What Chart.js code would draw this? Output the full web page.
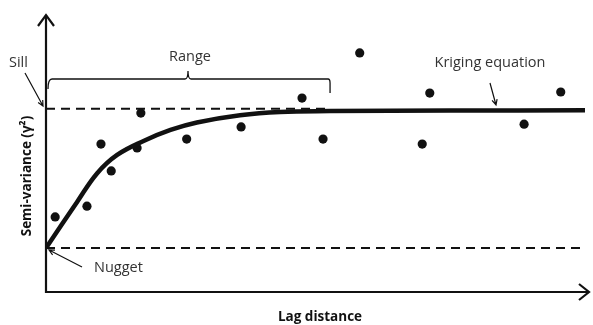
<!DOCTYPE html>
<html>
<head>
<meta charset="utf-8">
<script src="https://cdn.jsdelivr.net/npm/chart.js@4"></script>
<style>
    html, body { margin: 0; padding: 0; background: #fff; }
    canvas { display: block; }
</style>
</head>
<body>
<canvas id="variogramChart" width="593" height="325"></canvas>
<script>
// observed semi-variance points (lag, gamma)
const lagPoints = [1.7, 7.6, 10.2, 12.1, 16.9, 17.6, 26.1, 36.2, 47.5, 51.4, 58.2, 71.2, 69.8, 88.7, 95.5];
const gammaPoints = [27.1, 31.0, 53.4, 43.7, 52.0, 64.6, 55.2, 59.6, 70.0, 55.2, 86.3, 71.8, 53.4, 60.6, 72.2];

// fitted kriging curve
const curveLag = [0, 5.8, 9.5, 13.2, 18.2, 23.1, 28.0, 36.0, 43.4, 52.7, 75, 100];
const curveGamma = [15.9, 32.6, 42.9, 49.5, 54.6, 58.5, 61.2, 63.8, 65.0, 65.3, 65.5, 65.6];

const nugget = 15.9;
const sill = 66.2;
const rangeLag = 52.7;

const ink = '#111';

const annotations = {
    id: 'annotations',
    afterDatasetsDraw(chart) {
        const ctx = chart.ctx;
        const area = chart.chartArea;
        const x = chart.scales.x;

        ctx.save();
        ctx.strokeStyle = ink;
        ctx.fillStyle = ink;

        // axes
        ctx.lineWidth = 2.2;
        ctx.beginPath();
        ctx.moveTo(area.left, area.top);
        ctx.lineTo(area.left, area.bottom);
        ctx.lineTo(area.right + 3, area.bottom);
        ctx.stroke();

        // arrow heads on the axes
        ctx.beginPath();
        ctx.moveTo(area.left - 8, area.top + 11);
        ctx.lineTo(area.left, area.top);
        ctx.lineTo(area.left + 8, area.top + 11);
        ctx.moveTo(area.right - 6, area.bottom - 8);
        ctx.lineTo(area.right + 4, area.bottom);
        ctx.lineTo(area.right - 6, area.bottom + 8);
        ctx.stroke();

        // range bracket
        const bx0 = x.getPixelForValue(0) + 2;
        const bx1 = x.getPixelForValue(rangeLag);
        const by = 79;
        const mid = 188;
        ctx.lineWidth = 1.3;
        ctx.beginPath();
        ctx.moveTo(bx0, by + 10);
        ctx.quadraticCurveTo(bx0, by, bx0 + 4, by);
        ctx.lineTo(mid - 3, by);
        ctx.quadraticCurveTo(mid, by, mid, by - 8);
        ctx.quadraticCurveTo(mid, by, mid + 3, by);
        ctx.lineTo(bx1 - 2, by);
        ctx.quadraticCurveTo(bx1, by, bx1, by + 4);
        ctx.lineTo(bx1, by + 14);
        ctx.stroke();

        // pointer arrows
        const pointer = (x0, y0, x1, y1) => {
            const a = Math.atan2(y1 - y0, x1 - x0);
            ctx.lineWidth = 1.2;
            ctx.beginPath();
            ctx.moveTo(x0, y0);
            ctx.lineTo(x1, y1);
            ctx.moveTo(x1 - 6 * Math.cos(a - 0.45), y1 - 6 * Math.sin(a - 0.45));
            ctx.lineTo(x1, y1);
            ctx.lineTo(x1 - 6 * Math.cos(a + 0.45), y1 - 6 * Math.sin(a + 0.45));
            ctx.stroke();
        };
        pointer(25, 73, 43, 106);
        pointer(82, 267, 49, 250);
        pointer(490, 83, 496, 105);

        // labels
        ctx.fillStyle = '#333';
        ctx.font = '14.5px "Open Sans", sans-serif';
        ctx.textBaseline = 'middle';
        ctx.textAlign = 'left';
        ctx.fillText('Sill', 9, 63);
        ctx.fillText('Nugget', 94, 268);
        ctx.textAlign = 'center';
        ctx.fillText('Range', 190, 57);
        ctx.fillText('Kriging equation', 490, 63);

        // axis titles
        ctx.fillStyle = ink;
        ctx.font = 'bold 13.5px "Open Sans", sans-serif';
        ctx.fillText('Lag distance', 320, 317);
        ctx.translate(27, 176);
        ctx.rotate(-Math.PI / 2);
        ctx.fillText('Semi-variance (γ²)', 0, 0);

        ctx.restore();
    }
};

new Chart(document.getElementById('variogramChart'), {
    type: 'scatter',
    data: {
        datasets: [
            {
                label: 'Observed',
                data: lagPoints.map((v, i) => ({ x: v, y: gammaPoints[i] })),
                pointRadius: 4.6,
                pointBackgroundColor: ink,
                pointBorderWidth: 0,
                order: 1
            },
            {
                label: 'Kriging equation',
                type: 'line',
                data: curveLag.map((v, i) => ({ x: v, y: curveGamma[i] })),
                borderColor: ink,
                borderWidth: 4.5,
                pointRadius: 0,
                tension: 0.4,
                order: 0
            },
            {
                label: 'Sill',
                type: 'line',
                data: [{ x: 0, y: sill }, { x: rangeLag, y: sill }],
                borderColor: ink,
                borderWidth: 2,
                borderDash: [9, 6],
                pointRadius: 0,
                order: 2
            },
            {
                label: 'Nugget',
                type: 'line',
                data: [{ x: 0, y: nugget }, { x: 99.5, y: nugget }],
                borderColor: ink,
                borderWidth: 2,
                borderDash: [9, 6],
                pointRadius: 0,
                order: 2
            }
        ]
    },
    options: {
        responsive: false,
        animation: false,
        layout: {
            padding: { left: 46, right: 8, top: 15, bottom: 33 }
        },
        plugins: {
            legend: { display: false },
            tooltip: { enabled: false }
        },
        scales: {
            x: { type: 'linear', min: 0, max: 100, display: false },
            y: { type: 'linear', min: 0, max: 100, display: false }
        }
    },
    plugins: [annotations]
});
</script>
</body>
</html>
